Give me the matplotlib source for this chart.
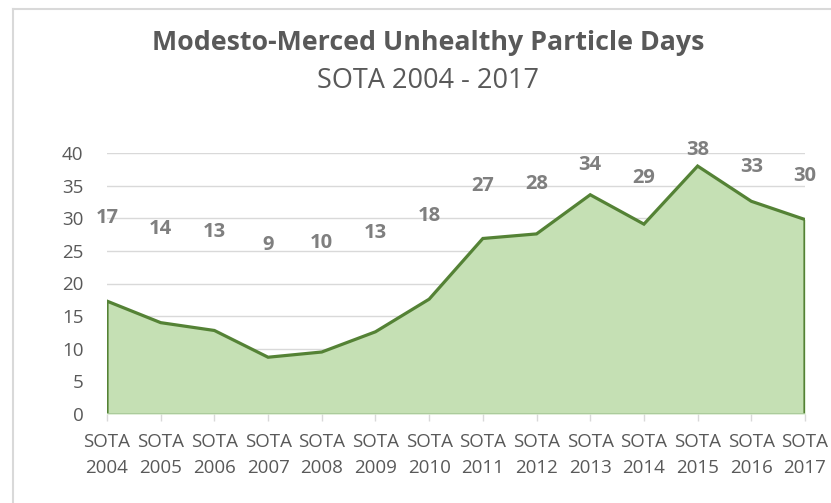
import matplotlib
matplotlib.use("Agg")
import matplotlib.pyplot as plt
from matplotlib.lines import Line2D

# data
YEARS = [2004, 2005, 2006, 2007, 2008, 2009, 2010,
         2011, 2012, 2013, 2014, 2015, 2016, 2017]
DAYS = [17.3, 14.0, 12.8, 8.7, 9.5, 12.6, 17.6,
        26.9, 27.6, 33.6, 29.1, 38.0, 32.6, 29.8]
# label heights (data units) as placed in the original
LABEL_Y = [30.1, 28.4, 27.9, 25.9, 26.2, 27.7, 30.3,
           35.0, 35.3, 38.2, 36.1, 40.5, 37.8, 36.4]
TICK_LABELS = [f"SOTA\n{y}" for y in YEARS]

TITLE = "Modesto-Merced Unhealthy Particle Days"
SUBTITLE = "SOTA 2004 - 2017"

FILL = "#c5e0b4"
LINE = "#548235"
TXT = "#595959"
LBL = "#7f7f7f"
GRID = "#d9d9d9"

plt.rcParams["font.family"] = ["Open Sans", "DejaVu Sans"]

W, H = 831, 503
fig = plt.figure(figsize=(W / 100, H / 100), dpi=100, facecolor="white")

# plot area in pixel terms: x 107..805, y 414 (0) .. 153 (40)
ax = fig.add_axes([107 / W, (H - 414) / H, (805 - 107) / W, (414 - 153) / H])
x = list(range(len(YEARS)))

ax.fill_between(x, DAYS, 0, color=FILL, lw=0, zorder=2)
ax.plot([x[0]] + x + [x[-1]], [0] + DAYS + [0], color=LINE, lw=2.3,
        solid_joinstyle="miter", zorder=3)
ax.axhline(0, color="#a8c99a", lw=2.0, zorder=3)

for xi, v, ly in zip(x, DAYS, LABEL_Y):
    ax.text(xi, ly, f"{v:.0f}", ha="center", va="center", fontsize=14.5,
            fontweight="bold", color=LBL, clip_on=False, zorder=4)

ax.set_xlim(0, len(YEARS) - 1)
ax.set_ylim(0, 40)
ax.set_yticks(range(0, 41, 5))
ax.set_xticks(x)
ax.set_xticklabels(TICK_LABELS, fontsize=13.5, color=TXT, linespacing=1.55)
ax.tick_params(axis="y", length=0, pad=17, labelsize=13.5, labelcolor=TXT)
ax.tick_params(axis="x", length=5, width=1, color=GRID, pad=9)
ax.grid(axis="y", color=GRID, lw=1, zorder=1)
ax.set_axisbelow(True)
for s in ax.spines.values():
    s.set_visible(False)

fig.text(428 / W, 1 - 43 / H, TITLE, ha="center", va="center",
         fontsize=19.3, fontweight="bold", color=TXT)
fig.text(428 / W, 1 - 81 / H, SUBTITLE, ha="center", va="center",
         fontsize=19.5, color=TXT)

# chart border (top and left edges visible in the crop)
fig.add_artist(Line2D([13.5 / W, 13.5 / W], [0, 1 - 9 / H],
                      transform=fig.transFigure, color=GRID, lw=1.5))
fig.add_artist(Line2D([13.5 / W, 1], [1 - 9 / H, 1 - 9 / H],
                      transform=fig.transFigure, color=GRID, lw=1.5))

fig.savefig("out.png", dpi=100, facecolor="white")
